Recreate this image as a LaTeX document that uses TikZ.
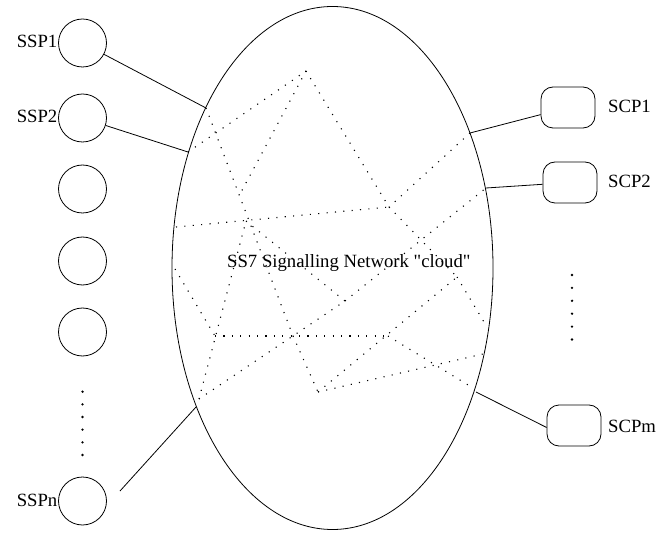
\documentclass[tikz,border=0pt]{standalone}
\usepackage{fontspec}
\setmainfont{Liberation Serif}[Ligatures=TeXOff]
\usetikzlibrary{shapes.geometric}
\begin{document}
\begin{tikzpicture}[x=1pt,y=-1pt,
  every node/.style={font=\fontsize{18.7}{22}\selectfont},
  ssp/.style={circle,draw,line width=0.8pt,minimum size=48pt,inner sep=0},
  scp/.style={rectangle,rounded corners=12pt,draw,line width=0.8pt,minimum width=54pt,minimum height=41pt,inner sep=0},
  lbl/.style={inner sep=0},
  link/.style={line width=0.8pt},
  net/.style={line width=1.1pt,dash pattern=on 1.1pt off 7.3pt},
  vdot/.style={circle,fill,inner sep=0,minimum size=2.6pt}]
\useasboundingbox (0,0) rectangle (658,534);
% cloud
\node[ellipse,draw,line width=0.8pt,minimum width=321pt,minimum height=523pt,inner sep=0] (cloud) at (332.5,268) {};
\node[lbl,anchor=base west] (nettext) at (227,267.5) {SS7 Signalling Network "cloud"};
% SSPs
\node[ssp] (ssp1) at (82.5,43) {};
\node[ssp] (ssp2) at (82.5,118) {};
\node[ssp] (ssp3) at (82.5,189) {};
\node[ssp] (ssp4) at (82.5,261) {};
\node[ssp] (ssp5) at (82.5,332) {};
\node[ssp] (sspn) at (82.5,501) {};
\node[lbl,anchor=east] (lssp1) at (57.5,41) {SSP1};
\node[lbl,anchor=east] (lssp2) at (57.5,116) {SSP2};
\node[lbl,anchor=east] (lsspn) at (57.5,500) {SSPn};
\foreach \yy [count=\i] in {391.7,404.4,417,429.6,442.3,455}
  \node[vdot] (ld\i) at (82.5,\yy) {};
% SCPs
\node[scp] (scp1) at (568,107.5) {};
\node[scp] (scp2) at (570,182.5) {};
\node[scp] (scpm) at (574,425.5) {};
\node[lbl,anchor=west] (lscp1) at (608,106.5) {SCP1};
\node[lbl,anchor=west] (lscp2) at (608,181) {SCP2};
\node[lbl,anchor=west] (lscpm) at (608,426.5) {SCPm};
\foreach \yy [count=\i] in {275,287.9,300.8,313.7,326.6,339.5}
  \node[vdot] (rd\i) at (572,\yy) {};
% points of the network
\coordinate (A) at (206,108);
\coordinate (B) at (188,152);
\coordinate (C) at (306,71);
\coordinate (D) at (470,133);
\coordinate (E) at (486,188);
\coordinate (F) at (196,407);
\coordinate (Fd) at (199,399);
\coordinate (Fs) at (120,491);
\coordinate (G) at (476,392);
\coordinate (Gd) at (473,388);
\coordinate (K) at (487,327);
\coordinate (I) at (483,354);
\coordinate (N) at (176,227);
\coordinate (Q) at (175,269);
\coordinate (P) at (239,196);
\coordinate (V1) at (246,221);
\coordinate (V3) at (389,207);
\coordinate (V4) at (293,336);
\coordinate (X1) at (345,301);
\coordinate (L) at (215,336);
\coordinate (M) at (388,336);
\coordinate (J) at (457,277);
\coordinate (H) at (318,392);
% solid links
\draw[link] (ssp1) -- (A);
\draw[link] (ssp2) -- (B);
\draw[link] (Fs) -- (F);
\draw[link] (scp1) -- (D);
\draw[link] (scp2) -- (E);
\draw[link] ([yshift=-2pt]scpm.west) -- (G);
% dotted network
\draw[net] (B) -- (C);
\draw[net] (C) -- (P);
\draw[net] (C) -- (V3);
\draw[net] (D) -- (V3);
\draw[net] (N) -- (V3);
\draw[net] (A) -- (V4);
\draw[net] (Fd) -- (V1);
\draw[net] (V1) -- (X1);
\draw[net] (Fd) -- (X1);
\draw[net] (X1) -- (E);
\draw[net] (Q) -- (L);
\draw[net] (L) -- (M);
\draw[net] (M) -- (Gd);
\draw[net] (H) -- (J);
\draw[net] (V4) -- (H);
\draw[net] (H) -- (I);
\draw[net] (V3) -- (J);
\draw[net] (J) -- (K);
\end{tikzpicture}
\end{document}
